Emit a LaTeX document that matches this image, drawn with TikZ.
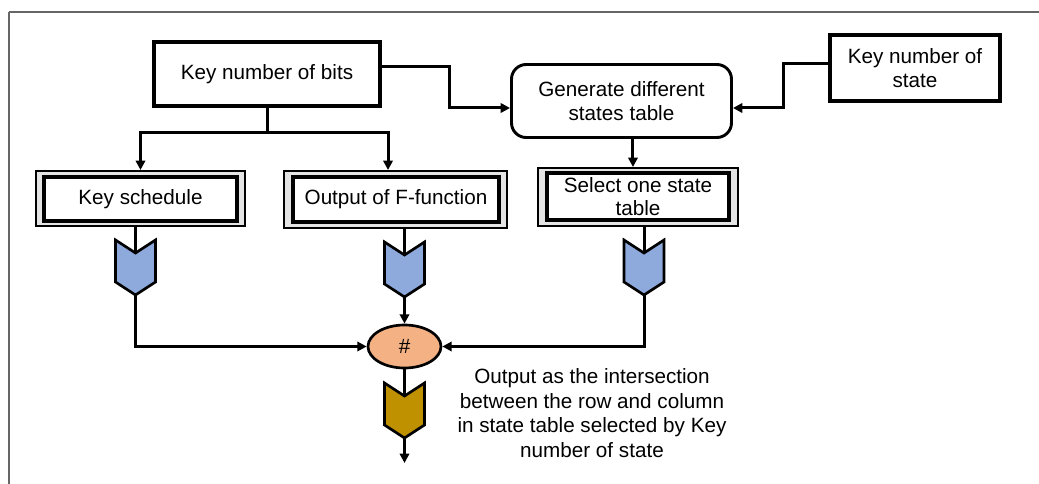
\documentclass[tikz,border=0pt]{standalone}
\usepackage{fontspec}
\setmainfont{Liberation Sans}
\usetikzlibrary{arrows.meta,shapes.geometric,calc}
\definecolor{chevblue}{HTML}{8EA9DB}
\definecolor{chevgold}{HTML}{BF9000}
\definecolor{opfill}{HTML}{F4B183}
\definecolor{bandgray}{HTML}{E4E4E4}
\definecolor{framegray}{HTML}{666666}

\begin{document}
\begin{tikzpicture}[x=0.75pt,y=-0.75pt,
  font=\fontsize{15.5pt}{17.6pt}\selectfont,
  heavybox/.style={draw, line width=3pt, fill=white, align=center, inner sep=0pt},
  roundbox/.style={draw, line width=2.2pt, fill=white, align=center, inner sep=0pt, rounded corners=11pt},
  framebox/.style={draw, line width=1.5pt, fill=bandgray, inner sep=0pt},
  innerbox/.style={draw, line width=2.4pt, fill=white, align=center, inner sep=0pt},
  opnode/.style={draw, ellipse, line width=2pt, fill=opfill, inner sep=0pt},
  wire/.style={line width=2.25pt},
  flow/.style={wire, -{Triangle[length=7pt,width=7pt]}},
  chev/.pic={
    \path[draw, line width=2pt, fill=#1]
      (-20,-27.5) -- (0,-14.5) -- (20,-27.5) -- (20,14.5) -- (0,27.5) -- (-20,14.5) -- cycle;
    \coordinate (-in) at (0,-14.5);
    \coordinate (-out) at (0,27.5);
  }
]
\useasboundingbox (0,0) rectangle (1039,484);

% page frame
\draw[framegray, line width=1.5pt] (9,484) -- (9,12);
\draw[framegray, line width=0.8pt] (9,12) -- (1039,12);

% top row
\node[heavybox, minimum width=169.5pt, minimum height=48pt] (kb) at (267,74) {Key number of bits};
\node[roundbox, minimum width=165pt, minimum height=54.75pt] (gen) at (621.5,101) {Generate different\\states table};
\node[heavybox, minimum width=127.5pt, minimum height=49.5pt] (kst) at (915,68) {Key number of\\state};

% framed boxes
\node[framebox, minimum width=156.75pt, minimum height=41.25pt] (ksframe) at (140.5,198.5) {};
\node[innerbox, minimum width=144.75pt, minimum height=33pt] (ks) at (140.5,199) {Key schedule};
\node[framebox, minimum width=167.25pt, minimum height=42.75pt] (ffframe) at (395.5,199.5) {};
\node[innerbox, minimum width=154.5pt, minimum height=33.75pt] (ff) at (396,199.5) {Output of F-function};
\node[framebox, minimum width=150pt, minimum height=43.5pt] (selframe) at (638,197) {};
\node[innerbox, minimum width=136.5pt, minimum height=35.25pt] (sel) at (638,196.5) {Select one state\\table};

% combining operator
\node[opnode, minimum width=54.75pt, minimum height=32.25pt] (op) at (404.5,346.5) {\#};

% chevrons
\pic (c1) at (135.5,267.5) {chev=chevblue};
\pic (c2) at (404.5,269.5) {chev=chevblue};
\pic (c3) at (644,267.5) {chev=chevblue};
\pic (c4) at (404.5,410.5) {chev=chevgold};

% helper points
\coordinate (split) at (267,133);
\coordinate (bendA) at (449,90);
\coordinate (bendB) at (783,90);
\coordinate (exit) at (404.5,463);

% connectors
\draw[wire] (kb.south) -- (split);
\draw[flow] (split) -| (ksframe.north);
\draw[flow] (split) -| ([xshift=-5.6pt]ffframe.north);
\draw[flow] ([yshift=5.25pt]kb.east) -| (bendA) |- ([yshift=-5.25pt]gen.west);
\draw[flow] ([yshift=3pt]kst.west) -| (bendB) |- ([yshift=-5.25pt]gen.east);
\draw[flow] ([xshift=8.6pt]gen.south) -- ([xshift=8.6pt]gen.south |- selframe.north);

\draw[wire] (ksframe.south -| c1-in) -- (c1-in);
\draw[wire] (ffframe.south -| c2-in) -- (c2-in);
\draw[wire] (selframe.south -| c3-in) -- (c3-in);
\draw[flow] (c1-out) |- (op.west);
\draw[flow] (c2-out) -- (op.north);
\draw[flow] (c3-out) |- (op.east);
\draw[wire] (op.south) -- (c4-in);
\draw[flow] (c4-out) -- (exit);

% note
\node[align=center, font=\fontsize{15.5pt}{18.4pt}\selectfont] (note) at (592,413)
  {Output as the intersection\\between the row and column\\in state table selected by Key\\number of state};
\end{tikzpicture}
\end{document}
